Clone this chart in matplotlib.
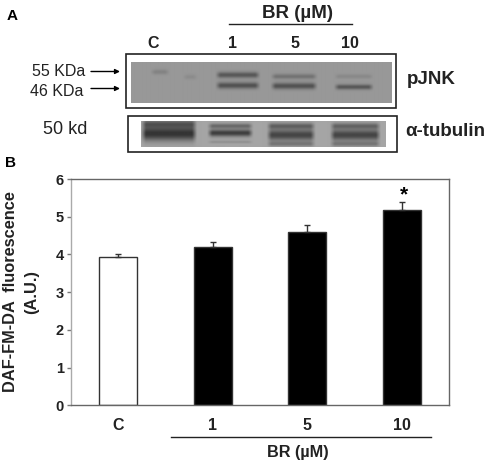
import numpy as np
import matplotlib
matplotlib.use('Agg')
import matplotlib.pyplot as plt

plt.rcParams['font.family'] = ['Liberation Sans', 'DejaVu Sans']

groups = ['C', '1', '5', '10']
means = [3.92, 4.19, 4.60, 5.17]
errs = [0.10, 0.15, 0.17, 0.21]
bar_colors = ['white', 'black', 'black', 'black']

# blot bands: x0, x1, y centre, y sigma, darkness
pjnk_bands = [
    (150, 170, 72, 2.5, 0.14), (182, 198, 77, 2.5, 0.08),
    (215, 260, 75, 3.0, 0.42), (215, 260, 85.5, 3.2, 0.46),
    (270, 317, 76.5, 2.6, 0.24), (270, 317, 86, 3.2, 0.46),
    (333, 373, 76.5, 2.2, 0.10), (333, 373, 87, 2.6, 0.42),
]
tubulin_bands = [
    (141, 197, 124, 3.5, 0.30), (141, 197, 134, 6.5, 0.55), (141, 197, 128, 12.0, 0.18),
    (207, 253, 126, 2.5, 0.35), (207, 253, 133, 3.5, 0.62), (207, 253, 142, 1.5, 0.12),
    (266, 315, 126, 3.0, 0.38), (266, 315, 135, 5.5, 0.58), (266, 315, 144, 2.5, 0.25),
    (329, 380, 126, 3.0, 0.36), (329, 380, 135, 5.5, 0.58), (329, 380, 144, 2.5, 0.25),
]
blot_labels = ['C', '1', '5', '10']
blot_label_x = [153, 232, 295, 350]


def make_blot(x0, x1, y0, y1, bands, base):
    xs = np.arange(x0, x1) + 0.5
    ys = np.arange(y0, y1) + 0.5
    X, Y = np.meshgrid(xs, ys)
    dark = np.zeros(X.shape)
    for bx0, bx1, yc, sig, amount in bands:
        edge = np.clip((X - bx0) / 5, 0, 1) * np.clip((bx1 - X) / 5, 0, 1)
        dark = dark + amount * edge * np.exp(-((Y - yc) / sig) ** 2)
    return base * (1 - np.clip(dark, 0, 0.68))


fig = plt.figure(figsize=(4.9, 4.66), dpi=100)

# overlay in pixel coordinates for panel A and annotations
pix = fig.add_axes([0, 0, 1, 1])
pix.axis('off')

pix.imshow(make_blot(131, 391, 62, 103, pjnk_bands, 152), extent=(131, 391, 103, 62),
           cmap='gray', vmin=0, vmax=255, aspect='auto', interpolation='bilinear')
pix.imshow(make_blot(141, 385, 121, 147, tubulin_bands, 165), extent=(141, 385, 147, 121),
           cmap='gray', vmin=0, vmax=255, aspect='auto', interpolation='bilinear')
pix.set_xlim(0, 490)
pix.set_ylim(466, 0)

pix.add_patch(plt.Rectangle((126, 54), 270, 54, fill=False, ec='#222222', lw=1.2))
pix.add_patch(plt.Rectangle((128, 116), 269, 36, fill=False, ec='#222222', lw=1.2))

pix.text(12, 16, 'A', fontsize=11, fontweight='bold', ha='center', va='center')
pix.text(10, 163, 'B', fontsize=11, fontweight='bold', ha='center', va='center')
pix.text(297, 13, 'BR (µM)', fontsize=13.5, fontweight='bold', ha='center', va='center', color='#222222')
pix.plot([229, 352], [24, 24], color='#222222', lw=1)
for label, x in zip(blot_labels, blot_label_x):
    pix.text(x, 43, label, fontsize=11.5, fontweight='bold', ha='center', va='center', color='#222222')

pix.text(59, 72, '55 KDa', fontsize=11.5, ha='center', va='center', color='#222222')
pix.text(57, 92, '46 KDa', fontsize=11.5, ha='center', va='center', color='#222222')
for y in (71.5, 88.5):
    pix.annotate('', xy=(120, y), xytext=(91, y),
                 arrowprops=dict(arrowstyle='-|>', color='black', lw=1, mutation_scale=7, shrinkA=0, shrinkB=0))
pix.text(65, 130, '50 kd', fontsize=13, ha='center', va='center', color='#222222')
pix.text(407, 80, 'pJNK', fontsize=13.5, fontweight='bold', ha='left', va='center', color='#222222')
pix.text(405, 132, 'α-tubulin', fontsize=13.5, fontweight='bold', ha='left', va='center', color='#222222')

# panel B
ax = fig.add_axes([71 / 490, 1 - 405.3 / 466, 378 / 490, 226.3 / 466])
ax.patch.set_alpha(0)
pos = np.arange(len(groups))
ax.bar(pos, means, width=0.4, color=bar_colors, edgecolor='#333333', linewidth=1,
       yerr=[np.zeros(len(errs)), errs],
       error_kw=dict(ecolor='#333333', elinewidth=1, capsize=2.5, capthick=1))
ax.set_xlim(-0.5, 3.5)
ax.set_ylim(0, 6)
ax.set_yticks(range(7))
ax.set_xticks(pos)
ax.set_xticklabels(groups, fontsize=11.5, fontweight='bold', color='#222222')
for tick in ax.get_yticklabels():
    tick.set_fontsize(10.5)
    tick.set_fontweight('bold')
    tick.set_color('#222222')
ax.tick_params(axis='x', length=0, pad=9)
ax.tick_params(axis='y', length=3, width=1, color='#777777', pad=2)
for name, spine in ax.spines.items():
    spine.set_color('#aaaaaa' if name == 'left' else '#666666')
    spine.set_linewidth(1)

ax.text(3.02, 5.58, '*', fontsize=15, fontweight='bold', ha='center', va='center')

pix.text(11, 292, 'DAF-FM-DA  fluorescence', fontsize=11.8, fontweight='bold', rotation=90,
         ha='center', va='center', color='#222222')
pix.text(32, 292, '(A.U.)', fontsize=11.8, fontweight='bold', rotation=90,
         ha='center', va='center', color='#222222')
pix.plot([171, 431], [436.5, 436.5], color='#222222', lw=1)
pix.text(298, 453, 'BR (µM)', fontsize=11.7, fontweight='bold', ha='center', va='center', color='#222222')

fig.savefig('out.png', dpi=100)
